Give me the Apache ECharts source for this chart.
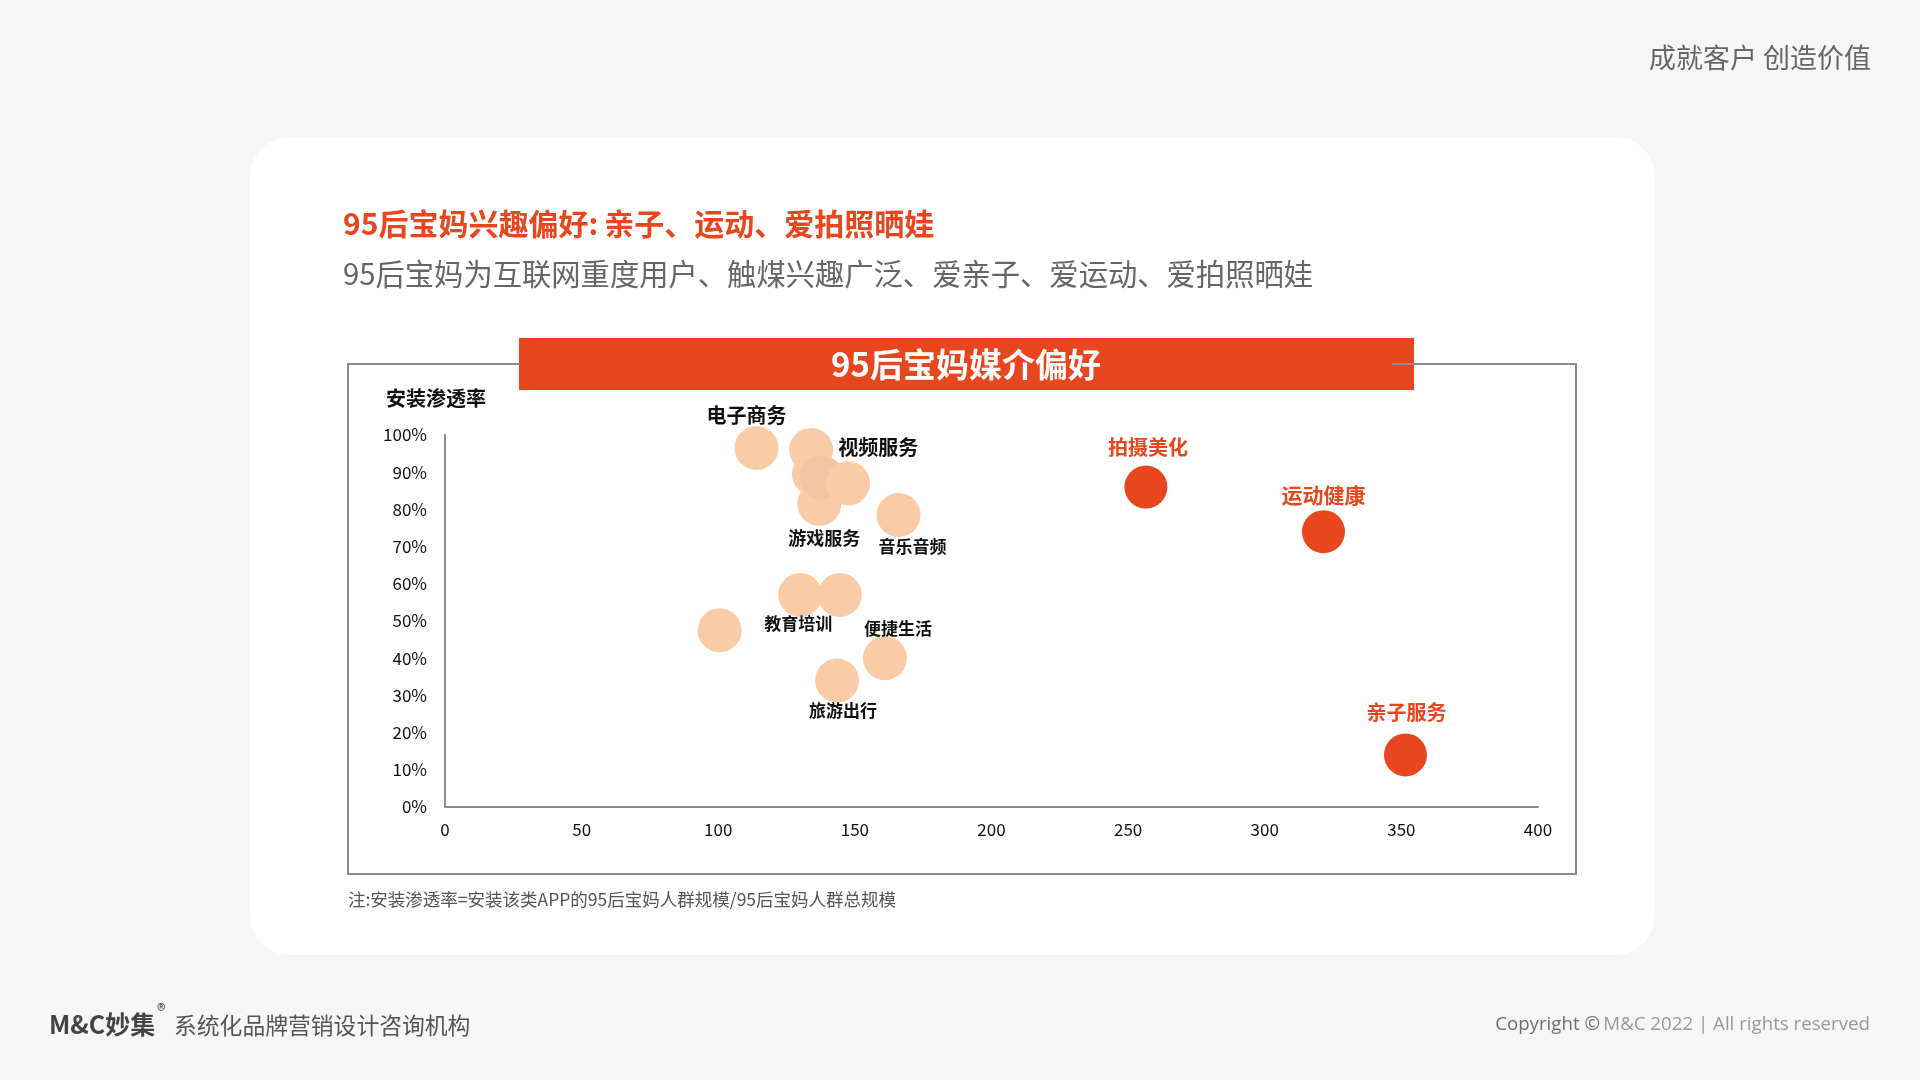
<!DOCTYPE html>
<html>
<head>
<meta charset="utf-8">
<script src="https://cdn.jsdelivr.net/npm/echarts@6/dist/echarts.min.js"></script>
<style>
html,body{margin:0;padding:0;background:#f6f6f6;}
#c{width:1920px;height:1080px;}
</style>
</head>
<body>
<div id="c"></div>
<script>
// ---- data ----
const lightLabels = ['电子商务','视频服务','','游戏服务','','','音乐音频','教育培训','','','便捷生活','旅游出行'];
const lightX = [114, 134, 135, 137, 138, 147.5, 166, 130, 144.5, 100.5, 161, 143.5];
const lightY = [96.5, 96, 89.5, 81.5, 88.5, 87, 78.5, 57, 57, 47.5, 40, 34];
const keyLabels = ['拍摄美化','运动健康','亲子服务'];
const keyX = [256.5, 321.5, 351.5];
const keyY = [86, 74, 14];
const xTicks = [0, 50, 100, 150, 200, 250, 300, 350, 400];
const yTicks = [0, 10, 20, 30, 40, 50, 60, 70, 80, 90, 100];

const FONT = '"Noto Sans CJK SC", "Noto Sans", sans-serif';
const RED = '#e8461e';
const LIGHT = '#f9cba7';

// label styling per named point (style only)
const labelStyle = {
  '电子商务': {position:'top', offset:[-10,4], fontSize:20},
  '视频服务': {position:'right', offset:[0,-2], fontSize:20},
  '游戏服务': {position:'bottom', offset:[5,-2], fontSize:18},
  '音乐音频': {position:'bottom', offset:[14,-4], fontSize:17},
  '教育培训': {position:'bottom', offset:[-2,-7], fontSize:17},
  '便捷生活': {position:'top', offset:[13,6], fontSize:17},
  '旅游出行': {position:'bottom', offset:[6,-5], fontSize:17},
  '拍摄美化': {position:'top', offset:[2,-3], fontSize:20},
  '运动健康': {position:'top', offset:[0,0], fontSize:21},
  '亲子服务': {position:'top', offset:[1,-6], fontSize:20}
};

function buildItems(labels, xs, ys, labelColor, darkerIndex) {
  return xs.map((x, i) => {
    const name = labels[i];
    const item = {name: name, value: [x, ys[i]]};
    if (i === darkerIndex) item.itemStyle = {color: '#f3c4a1', opacity: 1};
    if (name && labelStyle[name]) {
      const s = labelStyle[name];
      item.label = {
        show: true, formatter: name, position: s.position, offset: s.offset,
        distance: 5, color: labelColor, fontSize: s.fontSize, fontWeight: 'bold', fontFamily: FONT
      };
    } else {
      item.label = {show: false};
    }
    return item;
  });
}

const chart = echarts.init(document.getElementById('c'), null, {renderer: 'canvas'});

function txt(text, x, y, opts) {
  return {
    type: 'text', z: 10,
    style: Object.assign({
      text: text, x: x, y: y,
      fontFamily: FONT,
      textAlign: opts.align || 'left', align: opts.align || 'left',
      textVerticalAlign: 'middle', verticalAlign: 'middle'
    }, opts.style)
  };
}

const option = {
  backgroundColor: '#f6f6f6',
  animation: false,
  grid: {left: 445, right: 382, top: 435, bottom: 273, containLabel: false},
  xAxis: {
    type: 'value', min: 0, max: 400, interval: 50,
    axisLine: {show: true, onZero: false, lineStyle: {color: '#8c8c8c', width: 2}},
    axisTick: {show: false},
    splitLine: {show: false},
    axisLabel: {
      margin: 14, color: '#111', fontSize: 17, fontFamily: FONT,
      customValues: xTicks
    }
  },
  yAxis: {
    type: 'value', min: 0, max: 100, interval: 10,
    name: '安装渗透率', nameLocation: 'end', nameGap: 37,
    nameTextStyle: {color: '#111', fontSize: 20, fontWeight: 'bold', fontFamily: FONT,
      align: 'center', verticalAlign: 'middle', padding: [0, 18, 0, 0]},
    axisLine: {show: true, onZero: false, lineStyle: {color: '#8c8c8c', width: 2}},
    axisTick: {show: false},
    splitLine: {show: false},
    axisLabel: {
      margin: 18, color: '#111', fontSize: 17, fontFamily: FONT,
      formatter: '{value}%', customValues: yTicks
    }
  },
  graphic: [
    // white card
    {type: 'rect', z: 0, shape: {x: 250, y: 137, width: 1405, height: 818, r: 40}, style: {fill: '#ffffff'}},
    // chart frame
    {type: 'rect', z: 1, shape: {x: 348, y: 364, width: 1228, height: 510}, style: {fill: 'none', stroke: '#8c8c8c', lineWidth: 2}},
    // banner
    {type: 'rect', z: 2, shape: {x: 519, y: 338, width: 895, height: 52}, style: {fill: RED}},
    {type: 'line', z: 3, shape: {x1: 1392, y1: 364, x2: 1576, y2: 364}, style: {stroke: '#8c8c8c', lineWidth: 2}},
    txt('95后宝妈媒介偏好', 966, 364, {align: 'center', style: {fill: '#ffffff', fontSize: 33, fontWeight: 'bold'}}),
    // titles
    txt('95后宝妈兴趣偏好:\u2009亲子、运动、爱拍照晒娃', 343, 224, {style: {fill: RED, fontSize: 30, fontWeight: 'bold'}}),
    txt('95后宝妈为互联网重度用户、触煤兴趣广泛、爱亲子、爱运动、爱拍照晒娃', 343, 274, {style: {fill: '#666666', fontSize: 29.3}}),
    // note
    txt('注:安装渗透率=安装该类APP的95后宝妈人群规模/95后宝妈人群总规模', 348, 899, {style: {fill: '#555555', fontSize: 17.5}}),
    // top-right slogan
    txt('成就客户 创造价值', 1871, 58, {align: 'right', style: {fill: '#666666', fontSize: 27}}),
    // footer left
    txt('M&C妙集', 49, 1024, {style: {fill: '#444444', fontSize: 25, fontWeight: 'bold'}}),
    txt('®', 157, 1010, {style: {fill: '#444444', fontSize: 18}}),
    txt('系统化品牌营销设计咨询机构', 174, 1025, {style: {fill: '#555555', fontSize: 22.8}}),
    // footer right
    {
      type: 'text', z: 10,
      style: {
        text: '{a|Copyright ©} {b|M&C 2022 | All rights reserved}',
        x: 1870, y: 1025, textAlign: 'right', align: 'right', textVerticalAlign: 'middle', verticalAlign: 'middle',
        rich: {
          a: {fill: '#6f6f6f', color: '#6f6f6f', fontSize: 18.7, fontFamily: '"Open Sans", "Noto Sans", sans-serif'},
          b: {fill: '#999999', color: '#999999', fontSize: 18.7, fontFamily: '"Open Sans", "Noto Sans", sans-serif'}
        }
      }
    }
  ],
  series: [
    {
      type: 'scatter', z: 5,
      symbol: 'circle', symbolSize: 44,
      itemStyle: {color: LIGHT, opacity: 1},
      emphasis: {disabled: true},
      data: buildItems(lightLabels, lightX, lightY, '#111111', 4)
    },
    {
      type: 'scatter', z: 6,
      symbol: 'circle', symbolSize: 43,
      itemStyle: {color: RED, opacity: 1},
      emphasis: {disabled: true},
      data: buildItems(keyLabels, keyX, keyY, RED, -1)
    }
  ]
};
chart.setOption(option);
</script>
</body>
</html>
